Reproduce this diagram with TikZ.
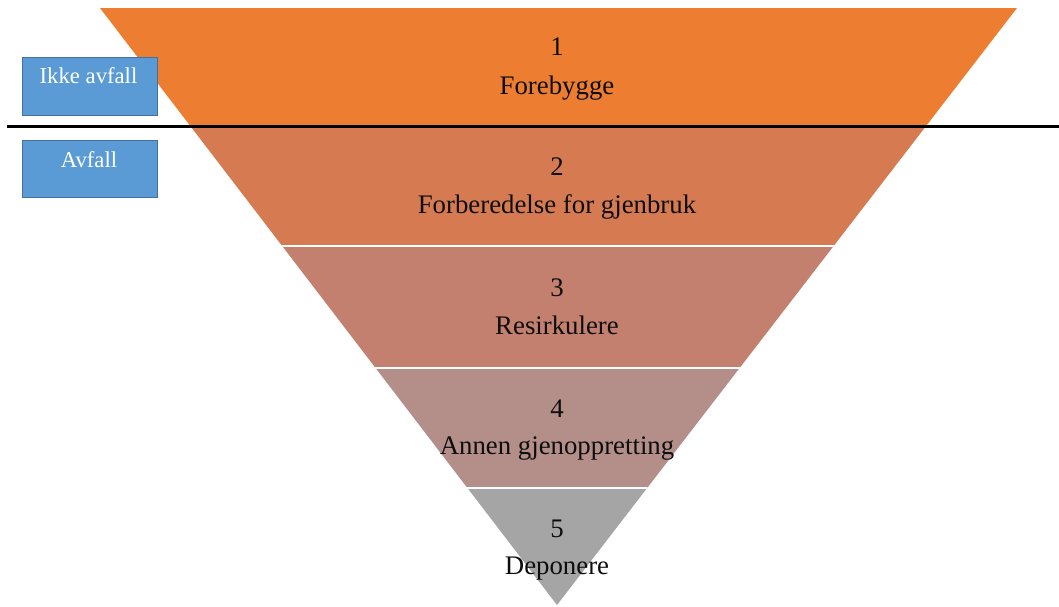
\documentclass[tikz,border=0pt]{standalone}
\usepackage{fontspec}
\setmainfont{Liberation Serif}
\definecolor{lvlA}{HTML}{ED7D31}
\definecolor{lvlB}{HTML}{D67A51}
\definecolor{lvlC}{HTML}{C4806F}
\definecolor{lvlD}{HTML}{B48F89}
\definecolor{lvlE}{HTML}{A5A5A5}
\definecolor{tagfill}{HTML}{5B9BD5}
\definecolor{tagline}{HTML}{41719C}
\tikzset{
  lvltext/.style={anchor=base, text=black!95, inner sep=0pt, font=\fontsize{26.8}{31}\selectfont},
  tagbox/.style={draw=tagline, fill=tagfill, line width=0.9pt},
  tagtext/.style={anchor=base, text=white, inner sep=0pt, font=\fontsize{22.7}{26}\selectfont},
  divider/.style={white, line width=1.8pt}
}
\begin{document}
\begin{tikzpicture}[x=1pt,y=-1pt]
\useasboundingbox (0,0) rectangle (1059,606);

% inverted pyramid, split into five bands
\coordinate (tl) at (100,8);
\coordinate (tr) at (1017,8);
\coordinate (apex) at (557,605);
\begin{scope}
  \clip (tl) -- (tr) -- (apex) -- cycle;
  \fill[lvlA] (0,0) rectangle (1059,127);
  \fill[lvlB] (0,127) rectangle (1059,246);
  \fill[lvlC] (0,246) rectangle (1059,368);
  \fill[lvlD] (0,368) rectangle (1059,488);
  \fill[lvlE] (0,488) rectangle (1059,610);
  \draw[divider] (0,246) -- (1059,246);
  \draw[divider] (0,368) -- (1059,368);
  \draw[divider] (0,488) -- (1059,488);
\end{scope}

% level labels
\node[lvltext] (n1) at (557,55) {1};
\node[lvltext] (t1) at (557,94) {Forebygge};
\node[lvltext] (n2) at (557,175) {2};
\node[lvltext] (t2) at (557,213) {Forberedelse for gjenbruk};
\node[lvltext] (n3) at (557,296) {3};
\node[lvltext] (t3) at (557,334) {Resirkulere};
\node[lvltext] (n4) at (557,417) {4};
\node[lvltext] (t4) at (557,454) {Annen gjenoppretting};
\node[lvltext] (n5) at (557,537) {5};
\node[lvltext] (t5) at (557,574) {Deponere};

% waste / non-waste boundary
\coordinate (lineL) at (7,126);
\coordinate (lineR) at (1059,126);
\draw[black, line width=3pt] (lineL) -- (lineR);

% side tags
\draw[tagbox] (22,57) rectangle (157,115);
\node[tagtext] (ikke) at (88.5,83) {Ikke avfall};
\draw[tagbox] (22,140) rectangle (157,197);
\node[tagtext] (avfall) at (89,167) {Avfall};
\end{tikzpicture}
\end{document}
